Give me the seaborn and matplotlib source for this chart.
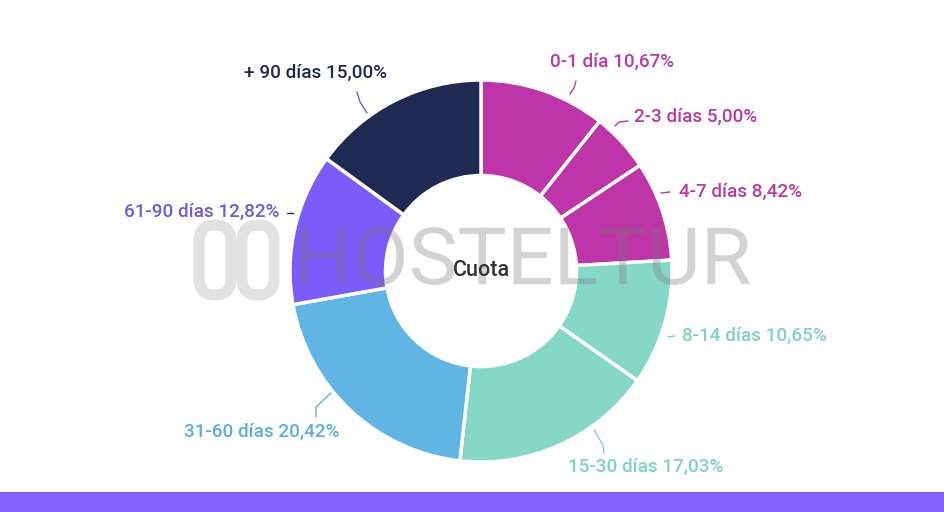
import matplotlib.pyplot as plt
import numpy as np
import seaborn as sns
from matplotlib.patches import Rectangle, FancyBboxPatch, PathPatch
from matplotlib.textpath import TextPath
from matplotlib.font_manager import FontProperties
from matplotlib.transforms import Affine2D

sns.set_theme(style="white")
plt.rcParams['font.family'] = ['Roboto', 'DejaVu Sans']

# datos
tramos = ['0-1 día', '2-3 días', '4-7 días', '8-14 días', '15-30 días',
          '31-60 días', '61-90 días', '+ 90 días']
cuota = [10.67, 5.00, 8.42, 10.65, 17.03, 20.42, 12.82, 15.00]

colores = ['#bd35a8', '#bd35a8', '#bd35a8', '#86d8c6', '#86d8c6',
           '#60b5e5', '#7a5cfa', '#1f2a52']
colores_txt = ['#b93aa5', '#b93aa5', '#b93aa5', '#80d3bf', '#80d3bf',
               '#5cafdd', '#7159e2', '#1e2a4f']

# posiciones de etiquetas (px) y conectores
pos_txt = [(550, 62, 'left'), (634, 117, 'left'), (679, 192, 'left'),
           (682, 336, 'left'), (568, 467, 'left'), (339, 432, 'right'),
           (279, 212, 'right'), (387, 73, 'right')]
conectores = [[(570, 94), (574, 88), (576, 81)],
              [(615, 126), (619, 122), (628, 121)],
              [(661, 193), (670, 192)],
              [(668, 337), (675, 336)],
              [(594, 430), (603, 445), (604, 453)],
              [(331, 393), (316, 407), (316, 417)],
              [(357, 92), (360, 102), (367, 113)],
              [(287, 213), (293, 213)]]

W, H = 944, 512
cx, cy, R = 481, 271, 191

fig = plt.figure(figsize=(W / 100, H / 100), dpi=100)
ax = fig.add_axes([0, 0, 1, 1])

ax.pie(cuota, colors=colores, startangle=-90, counterclock=True,
       center=(cx, cy), radius=R,
       wedgeprops=dict(width=R * 0.5, edgecolor='white', linewidth=2.5))
ax.set_xlim(0, W)
ax.set_ylim(H, 0)
ax.set_aspect('equal')
ax.axis('off')

for lab, v, c, (x, y, ha), con in zip(tramos, cuota, colores_txt, pos_txt, conectores):
    txt = f"{lab} {v:.2f}%".replace('.', ',')
    ax.text(x, y, txt, ha=ha, va='center', color=c, fontsize=13.6,
            fontweight='medium')
    xs, ys = zip(*con)
    ax.plot(xs, ys, color=c, lw=1, solid_capstyle='round')

ax.text(cx, cy, 'Cuota', ha='center', va='center', color='#333333',
        fontsize=15.5, fontweight='medium', zorder=8)

# marca de agua
tp = TextPath((0, 0), 'HOSTELTUR', size=100,
              prop=FontProperties(family='Roboto', weight='normal'))
ext = tp.get_extents()
sx = (750 - 300) / ext.width
sy = (285 - 227) / ext.height
tr = Affine2D().translate(-ext.x0, -ext.y0).scale(sx, -sy).translate(300, 285)
ax.add_patch(PathPatch(tr.transform_path(tp), facecolor='#7a7a7a',
                       edgecolor='none', alpha=0.33, zorder=6))
for x0 in (199, 242):
    ax.add_patch(FancyBboxPatch((x0, 225), 32, 70,
                                boxstyle='round,pad=0,rounding_size=16',
                                facecolor='none', edgecolor='#9a9a9a',
                                linewidth=8, alpha=0.28, zorder=6))

ax.add_patch(Rectangle((0, 492), W, 20, facecolor='#8461f8',
                       edgecolor='none', zorder=7))

fig.savefig('out.png', dpi=100)
